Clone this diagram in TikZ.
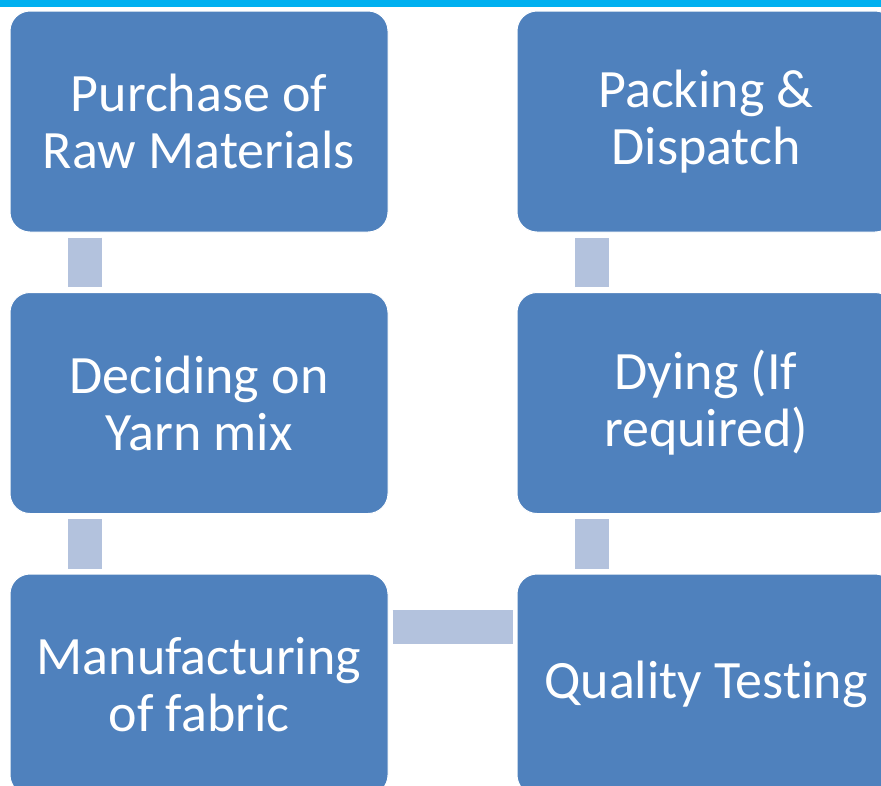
\documentclass[tikz,border=0pt]{standalone}
\usepackage{fontspec}
\setmainfont{Carlito}[Ligatures={NoCommon}]
\usetikzlibrary{calc}
\definecolor{stepblue}{HTML}{4F81BD}
\definecolor{linkblue}{HTML}{B3C2DD}
\definecolor{topbar}{HTML}{00B0F0}
\begin{document}
\begin{tikzpicture}[x=1pt,y=-1pt,
  stepbox/.style={draw=white, line width=1pt, fill=stepblue, rounded corners=20pt,
    minimum width=378pt, minimum height=221pt, inner sep=0pt, text=white, align=center,
    font=\fontsize{54}{57}\selectfont},
  link/.style={draw=linkblue, line width=34pt}]
\useasboundingbox (0,0) rectangle (881,785);
\fill[white] (0,0) rectangle (881,785);
\fill[topbar] (0,0) rectangle (881,7);

% process steps, left column top to bottom, then right column bottom to top
\node[stepbox] (purchase) at (199,121.5) {Purchase of\\Raw Materials};
\node[stepbox] (yarn)     at (199,403)   {Deciding on\\Yarn mix};
\node[stepbox] (fabric)   at (199,684.5) {Manufacturing\\of fabric};
\node[stepbox] (quality)  at (706,684.5) {Quality Testing};
\node[stepbox] (dying)    at (706,403)   {Dying (If\\required)};
\node[stepbox] (packing)  at (706,121.5) {Packing \&\\Dispatch};

% links between consecutive steps
\draw[link, shorten <=5pt, shorten >=5pt]
  ($(purchase.south west)+(75,0)$) -- ($(yarn.north west)+(75,0)$);
\draw[link, shorten <=5pt, shorten >=5pt]
  ($(yarn.south west)+(75,0)$) -- ($(fabric.north west)+(75,0)$);
\draw[link, shorten <=4pt, shorten >=4pt]
  ($(fabric.north east)+(0,53)$) -- ($(quality.north west)+(0,53)$);
\draw[link, shorten <=5pt, shorten >=5pt]
  ($(quality.north west)+(75,0)$) -- ($(dying.south west)+(75,0)$);
\draw[link, shorten <=5pt, shorten >=5pt]
  ($(dying.north west)+(75,0)$) -- ($(packing.south west)+(75,0)$);
\end{tikzpicture}
\end{document}
